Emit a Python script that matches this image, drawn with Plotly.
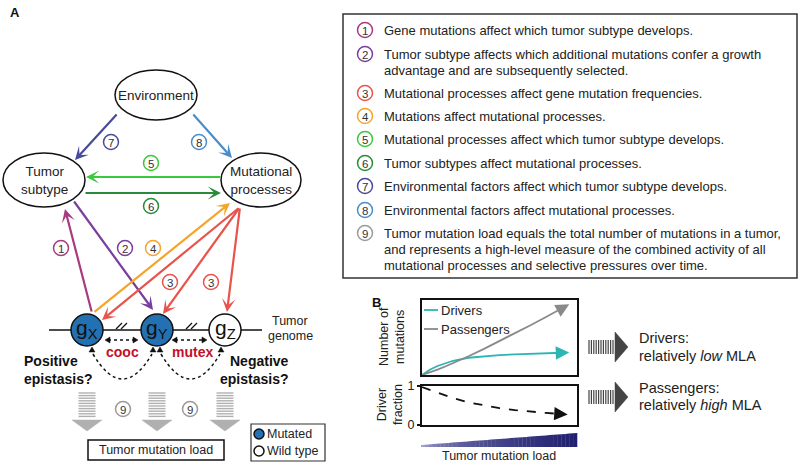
import plotly.graph_objects as go

FONT = "Liberation Sans, Arial, Helvetica, sans-serif"

# ---------------- Panel A data ----------------
node_names = ["Environment", "Tumor<br>subtype", "Mutational<br>processes"]
node_cx = [156, 44, 261]
node_cy = [95, 180, 180]
node_rx = [41, 41, 40]
node_ry = [25, 27, 27]

num_colors = {1: "#a93a80", 2: "#7a3f9d", 3: "#e9534b", 4: "#f5a52b", 5: "#3cc83c",
              6: "#2a8a3c", 7: "#4a4a9c", 8: "#4a8dc9", 9: "#9a9a9a"}

link_ids = [7, 8, 5, 6, 1, 2, 4, 3, 3, 3]
link_tail = [(118, 113), (192, 113), (222, 177), (84, 193), (92, 313), (73, 200), (93, 313), (240, 207), (240, 207), (240, 207)]
link_tip = [(75, 160), (232, 158), (86, 177), (221, 193), (65, 209), (153, 310), (230, 203), (102, 320), (163, 314), (227, 312)]

label_ids = [7, 8, 5, 6, 1, 2, 4, 3, 3, 9, 9]
label_pos = [(111, 142), (199, 142), (151, 163), (151, 206), (61, 248), (125, 248), (153, 248), (170, 282), (211, 282), (123, 409), (190, 409)]

gene_names = ["X", "Y", "Z"]
gene_mutated = [True, True, False]
gene_x = [87, 157, 225]
gene_y = 330

legend_items = [
    (1, ["Gene mutations affect which tumor subtype develops."]),
    (2, ["Tumor subtype affects which additional mutations confer a growth",
         "advantage and are subsequently selected."]),
    (3, ["Mutational processes affect gene mutation frequencies."]),
    (4, ["Mutations affect mutational processes."]),
    (5, ["Mutational processes affect which tumor subtype develops."]),
    (6, ["Tumor subtypes affect mutational processes."]),
    (7, ["Environmental factors affect which tumor subtype develops."]),
    (8, ["Environmental factors affect mutational processes."]),
    (9, ["Tumor mutation load equals the total number of mutations in a tumor,",
         "and represents a high-level measure of the combined activity of all",
         "mutational processes and selective pressures over time."]),
]
legend_y = [30, 54, 93, 116, 139, 163, 186, 210, 233]

# ---------------- Panel B data ----------------
tml = [0, 0.05, 0.1, 0.15, 0.2, 0.3, 0.4, 0.5, 0.6, 0.7, 0.8, 0.9, 0.95]
drivers = [0, 0.07, 0.12, 0.16, 0.19, 0.23, 0.25, 0.265, 0.275, 0.285, 0.29, 0.297, 0.30]
passengers = [0, 0.032, 0.071, 0.113, 0.157, 0.25, 0.349, 0.451, 0.556, 0.664, 0.774, 0.886, 0.943]
tml_f = [0, 0.1, 0.2, 0.3, 0.4, 0.5, 0.6, 0.7, 0.8, 0.9, 0.94]
driver_fraction = [0.97, 0.82, 0.69, 0.58, 0.50, 0.43, 0.38, 0.34, 0.31, 0.28, 0.27]
frac_ticks = [0, 1]

DRIVER_C = "#2bb5b5"
PASS_C = "#8a8a8a"

fig = go.Figure()
fig.add_trace(go.Scatter(x=[0, 800], y=[0, 464], mode="markers", marker=dict(opacity=0),
                         hoverinfo="skip", showlegend=False, xaxis="x", yaxis="y"))

shapes = []
ann = []

def text(x, y, s, size=12, color="#222", xanchor="center", bold=False, **kw):
    if bold:
        s = "<b>" + s + "</b>"
    ann.append(dict(x=x, y=y, xref="x", yref="y", text=s, showarrow=False,
                    font=dict(family=FONT, size=size, color=color),
                    xanchor=xanchor, yanchor="middle", **kw))

def circ_num(x, y, n, r=7.5):
    shapes.append(dict(type="circle", xref="x", yref="y", x0=x - r, x1=x + r, y0=y - r, y1=y + r,
                       line=dict(color=num_colors[n], width=1.5), fillcolor="white"))
    text(x, y + 0.5, str(n), size=11.5, color="#333")

# Panel letters
text(8, 12, "A", size=13, color="#111", xanchor="left", bold=True)
text(370, 302, "B", size=13, color="#111", xanchor="left", bold=True)

# Nodes
for name, cx, cy, rx, ry in zip(node_names, node_cx, node_cy, node_rx, node_ry):
    shapes.append(dict(type="circle", xref="x", yref="y", x0=cx - rx, x1=cx + rx, y0=cy - ry, y1=cy + ry,
                       line=dict(color="#111", width=1.5), fillcolor="white"))
    text(cx, cy, name, size=13.5, color="#222")

# Genome line
shapes.append(dict(type="line", xref="x", yref="y", x0=49, x1=262, y0=gene_y, y1=gene_y,
                   line=dict(color="#111", width=1.5)))
for bx in [122, 192]:
    for dx in [-3, 2]:
        shapes.append(dict(type="line", xref="x", yref="y", x0=bx + dx - 3, x1=bx + dx + 3,
                           y0=329, y1=323, line=dict(color="#111", width=1.3)))
text(290, 321, "Tumor", size=12.5)
text(290, 336, "genome", size=12.5)

# Arrows
for n, (tx, ty), (hx, hy) in zip(link_ids, link_tail, link_tip):
    ann.append(dict(x=hx, y=hy, ax=tx, ay=ty, xref="x", yref="y", axref="x", ayref="y",
                    text="", showarrow=True, arrowhead=3, arrowsize=1.0, arrowwidth=2.2,
                    arrowcolor=num_colors[n]))

# Genes
for g, mut, gx in zip(gene_names, gene_mutated, gene_x):
    shapes.append(dict(type="circle", xref="x", yref="y", x0=gx - 16, x1=gx + 16,
                       y0=gene_y - 16, y1=gene_y + 16,
                       line=dict(color="#111", width=1.5), fillcolor="#2370b2" if mut else "white"))
    text(gx, gene_y - 1, "g<sub>" + g + "</sub>", size=21, color="#111")

def small_head(x, y, direction):
    if direction == "l":
        p = f"M {x} {y} L {x+5} {y-3} L {x+5} {y+3} Z"
    elif direction == "r":
        p = f"M {x} {y} L {x-5} {y-3} L {x-5} {y+3} Z"
    else:
        p = f"M {x} {y} L {x-3} {y+5} L {x+3} {y+5} Z"
    shapes.append(dict(type="path", xref="x", yref="y", path=p, fillcolor="#111",
                       line=dict(color="#111", width=0.5)))

for x0, x1 in [(105, 138), (172, 207)]:
    shapes.append(dict(type="line", xref="x", yref="y", x0=x0 + 3, x1=x1 - 3, y0=340, y1=340,
                       line=dict(color="#111", width=1.5, dash="dot")))
    small_head(x0, 340, "l")
    small_head(x1, 340, "r")

for x0, x1 in [(93, 152), (161, 220)]:
    xm = (x0 + x1) / 2
    shapes.append(dict(type="path", xref="x", yref="y",
                       path=f"M {x0} 354 Q {xm} 404 {x1} 354",
                       line=dict(color="#111", width=1.5, dash="dot")))
    small_head(x0 - 1, 347, "u")
    small_head(x1 + 1, 347, "u")

text(122, 352, "cooc", size=14, color="#c3102d", bold=True)
text(192, 352, "mutex", size=14, color="#c3102d", bold=True)
text(22, 361, "Positive", size=14, color="#111", xanchor="left", bold=True)
text(22, 379, "epistasis?", size=14, color="#111", xanchor="left", bold=True)
text(228, 361, "Negative", size=14, color="#111", xanchor="left", bold=True)
text(218, 379, "epistasis?", size=14, color="#111", xanchor="left", bold=True)

# striped gray arrows (9)
for gx in gene_x:
    for k in range(10):
        yy = 393 + k * 2.6
        shapes.append(dict(type="line", xref="x", yref="y", x0=gx - 8.5, x1=gx + 8.5, y0=yy, y1=yy,
                           line=dict(color="#b0b0b0", width=1.4)))
    shapes.append(dict(type="path", xref="x", yref="y",
                       path=f"M {gx-15} 420 L {gx+15} 420 L {gx} 431 Z",
                       fillcolor="#b0b0b0", line=dict(color="#b0b0b0", width=0.5)))

for n, (x, y) in zip(label_ids, label_pos):
    circ_num(x, y, n)

# Tumor mutation load box
shapes.append(dict(type="rect", xref="x", yref="y", x0=88, x1=224, y0=440, y1=460,
                   line=dict(color="#111", width=1.5), fillcolor="white"))
text(156, 450, "Tumor mutation load", size=12.5)

# Mutated / wild type legend
shapes.append(dict(type="rect", xref="x", yref="y", x0=251, x1=325, y0=424, y1=461,
                   line=dict(color="#333", width=1.2), fillcolor="white"))
for yy, fc, lab in [(434, "#2370b2", "Mutated"), (451, "white", "Wild type")]:
    shapes.append(dict(type="circle", xref="x", yref="y", x0=254, x1=264, y0=yy - 5, y1=yy + 5,
                       line=dict(color="#111", width=1.5), fillcolor=fc))
    text(265, yy, lab, size=12.5, xanchor="left")

# Right legend box
shapes.append(dict(type="rect", xref="x", yref="y", x0=343, x1=797, y0=14, y1=278,
                   line=dict(color="#333", width=1.5), fillcolor="rgba(0,0,0,0)"))
for (n, lines), yy in zip(legend_items, legend_y):
    circ_num(365, yy, n)
    for i, ln in enumerate(lines):
        text(382, yy + i * 16, ln, size=13, xanchor="left")

# ---------------- Panel B ----------------
fig.add_trace(go.Scatter(x=tml[:-1], y=drivers[:-1], mode="lines", line=dict(color=DRIVER_C, width=1.8),
                         xaxis="x2", yaxis="y2", showlegend=False, hoverinfo="skip"))
fig.add_trace(go.Scatter(x=tml[:-1], y=passengers[:-1], mode="lines", line=dict(color=PASS_C, width=1.8),
                         xaxis="x2", yaxis="y2", showlegend=False, hoverinfo="skip"))
fig.add_trace(go.Scatter(x=tml_f[:-1], y=driver_fraction[:-1], mode="lines",
                         line=dict(color="#111", width=1.8, dash="dash"),
                         xaxis="x3", yaxis="y3", showlegend=False, hoverinfo="skip"))
for xs, ys, c, xr, yr in [(tml, drivers, DRIVER_C, "x2", "y2"), (tml, passengers, PASS_C, "x2", "y2"),
                          (tml_f, driver_fraction, "#111", "x3", "y3")]:
    ann.append(dict(x=xs[-1], y=ys[-1], ax=xs[-2], ay=ys[-2], xref=xr, yref=yr, axref=xr, ayref=yr,
                    text="", showarrow=True, arrowhead=2, arrowsize=1.5, arrowwidth=1.8, arrowcolor=c))

for yy, c, lab in [(310, DRIVER_C, "Drivers"), (329, PASS_C, "Passengers")]:
    shapes.append(dict(type="line", xref="x", yref="y", x0=424, x1=438, y0=yy, y1=yy,
                       line=dict(color=c, width=1.8)))
    text(439, yy, lab, size=13, xanchor="left")

ann.append(dict(x=392, y=337, xref="x", yref="y", text="Number of<br>mutations", showarrow=False,
                textangle=-90, font=dict(family=FONT, size=12.5, color="#222")))
ann.append(dict(x=390, y=405, xref="x", yref="y", text="Driver<br>fraction", showarrow=False,
                textangle=-90, font=dict(family=FONT, size=12.5, color="#222")))

# gradient wedge
nsl = 40
x_left, x_right = 421, 577
for i in range(nsl):
    xa = x_left + (x_right - x_left) * i / nsl
    xb = x_left + (x_right - x_left) * (i + 1) / nsl
    ta = 445 - 12 * i / nsl
    tb = 445 - 12 * (i + 1) / nsl
    t = ((i + 0.5) / nsl) ** 0.35
    r = int(200 + (32 - 200) * t)
    g = int(200 + (32 - 200) * t)
    b = int(235 + (112 - 235) * t)
    col = f"rgb({r},{g},{b})"
    shapes.append(dict(type="path", xref="x", yref="y",
                       path=f"M {xa} 447 L {xa} {ta} L {xb+0.3} {tb} L {xb+0.3} 447 Z",
                       fillcolor=col, line=dict(width=0)))
text(499, 456, "Tumor mutation load", size=12.5)

# dark striped arrows
for cy in [347, 397]:
    for k in range(11):
        xx = 589 + k * 2.4
        shapes.append(dict(type="line", xref="x", yref="y", x0=xx, x1=xx, y0=cy - 7, y1=cy + 7,
                           line=dict(color="#444", width=1.2)))
    shapes.append(dict(type="path", xref="x", yref="y",
                       path=f"M 615 {cy-15} L 628 {cy} L 615 {cy+15} Z",
                       fillcolor="#444", line=dict(color="#444", width=0.5)))

text(637, 338, "Drivers:", size=14.5, xanchor="left")
text(637, 356, "relatively <i>low</i> MLA", size=14.5, xanchor="left")
text(637, 388, "Passengers:", size=14.5, xanchor="left")
text(637, 405, "relatively <i>high</i> MLA", size=14.5, xanchor="left")

W, H = 800, 464
ax_common = dict(showgrid=False, zeroline=False, showline=True, mirror=True, linecolor="#111",
                 linewidth=2, fixedrange=True, automargin=False)
fig.update_layout(
    width=W, height=H, margin=dict(l=0, r=0, t=0, b=0, pad=0, autoexpand=False),
    paper_bgcolor="white", plot_bgcolor="rgba(0,0,0,0)",
    xaxis=dict(range=[0, W], visible=False, domain=[0, 1], fixedrange=True, automargin=False),
    yaxis=dict(range=[H, 0], visible=False, domain=[0, 1], fixedrange=True, automargin=False),
    xaxis2=dict(domain=[422 / W, 577 / W], range=[0, 1], showticklabels=False, ticks="",
                anchor="y2", **ax_common),
    yaxis2=dict(domain=[1 - 375 / H, 1 - 300 / H], range=[0, 1], showticklabels=False, ticks="",
                anchor="x2", **ax_common),
    xaxis3=dict(domain=[422 / W, 577 / W], range=[0, 1], showticklabels=False, ticks="",
                anchor="y3", **ax_common),
    yaxis3=dict(domain=[1 - 425 / H, 1 - 386 / H], range=[0, 1], tickvals=frac_ticks,
                ticktext=[str(v) for v in frac_ticks], ticks="outside", ticklen=3, tickwidth=1.5,
                tickcolor="#111", tickfont=dict(family=FONT, size=12.5, color="#222"),
                anchor="x3", **ax_common),
    shapes=shapes, annotations=ann, showlegend=False,
)
fig.write_html(
    "out.html",
    config={"displayModeBar": False, "staticPlot": True},
    post_script=("document.body.style.margin='0';document.body.style.padding='0';"
                 "document.body.style.overflow='hidden';"
                 "document.documentElement.style.overflow='hidden';"),
)
